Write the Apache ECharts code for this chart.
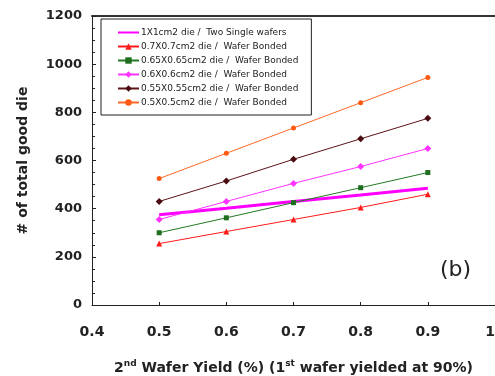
<!DOCTYPE html>
<html>
<head>
<meta charset="utf-8">
<script src="https://cdn.jsdelivr.net/npm/echarts@6/dist/echarts.min.js"></script>
<style>
html, body { margin: 0; padding: 0; background: #fff; }
#chart { width: 495px; height: 376px; }
</style>
</head>
<body>
<div id="chart"></div>
<script>
// data
const yields = [0.5, 0.6, 0.7, 0.8, 0.9]
const names = [
  '1X1cm2 die /  Two Single wafers',
  '0.7X0.7cm2 die /  Wafer Bonded',
  '0.65X0.65cm2 die /  Wafer Bonded',
  '0.6X0.6cm2 die /  Wafer Bonded',
  '0.55X0.55cm2 die /  Wafer Bonded',
  '0.5X0.5cm2 die /  Wafer Bonded'
]
const die100 = [375, 402, 430, 457, 485]
const die070 = [255, 305, 355, 405, 460]
const die065 = [300, 362, 425, 487, 550]
const die060 = [355, 430, 505, 575, 650]
const die055 = [430, 515, 605, 690, 775]
const die050 = [525, 630, 735, 840, 945]

const pairs = arr => yields.map((x, i) => [x, arr[i]])

const axisFont = { fontFamily: 'DejaVu Sans', fontWeight: 'bold', color: '#222' }

const chart = echarts.init(document.getElementById('chart'))

const option = {
  animation: false,
  backgroundColor: '#fff',
  grid: { left: 92, top: 16, right: 0, bottom: 71, outerBoundsMode: 'none', containLabel: false },
  legend: {
    orient: 'vertical',
    left: 101,
    top: 19,
    padding: [9, 13, 8, 16],
    itemGap: 5,
    itemWidth: 21,
    itemHeight: 8,
    borderColor: '#222',
    borderWidth: 1,
    backgroundColor: '#fff',
    textStyle: { fontFamily: 'DejaVu Sans', fontSize: 9, color: '#222', padding: [0, 0, 0, -3] },
    data: [{ name: names[0], itemStyle: { opacity: 0 } }].concat(names.slice(1))
  },
  xAxis: [
    {
      type: 'value',
      min: 0.4,
      max: 1,
      interval: 0.1,
      axisLine: { lineStyle: { color: '#222', width: 1 } },
      axisTick: { inside: true, length: 3, lineStyle: { color: '#222' } },
      splitLine: { show: false },
      axisLabel: Object.assign({}, axisFont, {
        fontSize: 14,
        margin: 20,
        alignMaxLabel: 'right',
        formatter: v => (Math.round(v * 10) / 10).toString()
      }),
      name: '{a|2}{s|nd}{a| Wafer Yield (%) (1}{s|st}{a| wafer yielded at 90%)}',
      nameLocation: 'middle',
      nameGap: 54,
      nameTextStyle: {
        rich: {
          a: Object.assign({}, axisFont, { fontSize: 14, lineHeight: 18 }),
          s: Object.assign({}, axisFont, { fontSize: 9, verticalAlign: 'top', lineHeight: 18, padding: [0, 0, 8, 0] })
        }
      }
    },
    {
      type: 'value',
      position: 'top',
      min: 0.4,
      max: 1,
      axisLine: { show: true, onZero: false, lineStyle: { color: '#333', width: 2 } },
      axisTick: { show: false },
      axisLabel: { show: false },
      splitLine: { show: false }
    }
  ],
  yAxis: [
    {
      type: 'value',
      min: 0,
      max: 1200,
      interval: 200,
      axisLine: { show: true, lineStyle: { color: '#222', width: 1 } },
      axisTick: { show: true, inside: true, length: 4, lineStyle: { color: '#222' } },
      minorTick: { show: true, splitNumber: 4, length: 3, lineStyle: { color: '#222' } },
      splitLine: { show: false },
      axisLabel: Object.assign({}, axisFont, { fontSize: 13, margin: 10, formatter: v => String(v) }),
      name: '# of total good die',
      nameLocation: 'middle',
      nameRotate: 90,
      nameGap: 62,
      nameTextStyle: Object.assign({}, axisFont, { fontSize: 14 })
    },
    {
      type: 'value',
      position: 'right',
      min: 0,
      max: 1200,
      axisLine: { show: true, onZero: false, lineStyle: { color: '#ccc', width: 1 } },
      axisTick: { show: false },
      axisLabel: { show: false },
      splitLine: { show: false }
    }
  ],
  graphic: [
    {
      type: 'text',
      left: 440,
      top: 259,
      style: { text: '(b)', fontFamily: 'DejaVu Sans', fontSize: 22, fill: '#222' }
    }
  ],
  series: [
    {
      name: names[0], type: 'line', data: pairs(die100), symbol: 'none',
      lineStyle: { color: '#ff00ff', width: 3 }, itemStyle: { color: '#ff00ff' }
    },
    {
      name: names[1], type: 'line', data: pairs(die070), symbol: 'triangle', symbolSize: 6,
      lineStyle: { color: '#ff1a1a', width: 1 }, itemStyle: { color: '#ff1a1a' }
    },
    {
      name: names[2], type: 'line', data: pairs(die065), symbol: 'rect', symbolSize: 5,
      lineStyle: { color: '#237a23', width: 1 }, itemStyle: { color: '#1e6e1e' }
    },
    {
      name: names[3], type: 'line', data: pairs(die060), symbol: 'diamond', symbolSize: 7,
      lineStyle: { color: '#ff33ff', width: 1 }, itemStyle: { color: '#ff33ff' }
    },
    {
      name: names[4], type: 'line', data: pairs(die055), symbol: 'diamond', symbolSize: 7,
      lineStyle: { color: '#5c1418', width: 1 }, itemStyle: { color: '#4a0c10' }
    },
    {
      name: names[5], type: 'line', data: pairs(die050), symbol: 'circle', symbolSize: 5,
      lineStyle: { color: '#ff6a26', width: 1 }, itemStyle: { color: '#ff5a14' }
    }
  ]
}

chart.setOption(option)
</script>
</body>
</html>
